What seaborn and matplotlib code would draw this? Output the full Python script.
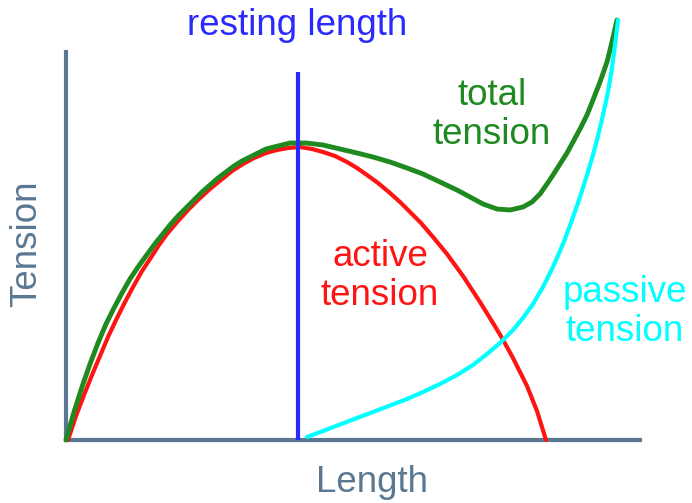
import matplotlib
matplotlib.use("Agg")
import matplotlib.pyplot as plt
import seaborn as sns
import pandas as pd

# Muscle length-tension relationship (arbitrary units)
active_len = [.02, .10, .18, .26, .34, .42, .50, .59, .67, .76,
              .84, .93, 1.01, 1.12, 1.23, 1.33, 1.44, 1.55, 1.66, 1.77,
              1.88, 2.00, 2.11, 2.22, 2.34,
              2.46, 2.57, 2.69, 2.81, 2.91, 3.01, 3.12, 3.24, 3.34, 3.44,
              3.55, 3.67, 3.81, 3.97, 4.14, 4.27, 4.36, 4.47, 4.61, 4.71, 4.80]
active_ten = [0, .24, .45, .65, .84, 1.03, 1.20, 1.38, 1.53, 1.69,
              1.81, 1.95, 2.06, 2.19, 2.31, 2.41, 2.51, 2.60, 2.69, 2.76,
              2.82, 2.87, 2.90, 2.92, 2.93,
              2.91, 2.88, 2.84, 2.78, 2.72, 2.65, 2.57, 2.47, 2.38, 2.28,
              2.17, 2.03, 1.86, 1.64, 1.38, 1.17, 1.02, .82, .54, .29, 0]

total_len = [0, .08, .16, .24, .32, .40, .48, .56, .64, .72,
             .80, .88, .96, 1.04, 1.12, 1.20, 1.28, 1.36, 1.44, 1.52,
             1.60, 1.68, 1.76, 1.84, 1.92, 2.00, 2.08, 2.16, 2.24, 2.32,
             2.40, 2.57, 2.74, 2.91, 3.07, 3.24, 3.41, 3.57, 3.74, 3.91,
             4.04, 4.17, 4.31, 4.44, 4.57, 4.66, 4.74, 4.81, 4.87, 4.94,
             5.01, 5.07, 5.14, 5.21, 5.27, 5.34, 5.41, 5.46, 5.51]
total_ten = [0, .28, .53, .76, .97, 1.16, 1.32, 1.47, 1.61, 1.73,
             1.84, 1.95, 2.05, 2.15, 2.24, 2.32, 2.40, 2.48, 2.55, 2.62,
             2.68, 2.74, 2.79, 2.83, 2.87, 2.91, 2.93, 2.95, 2.97, 2.97,
             2.97, 2.95, 2.91, 2.87, 2.83, 2.78, 2.72, 2.66, 2.58, 2.50,
             2.43, 2.36, 2.31, 2.30, 2.33, 2.38, 2.46, 2.56, 2.65, 2.76,
             2.87, 2.98, 3.11, 3.25, 3.40, 3.58, 3.78, 3.98, 4.20]

passive_len = [2.41, 2.57, 2.74, 2.91, 3.07, 3.24, 3.41, 3.57, 3.74, 3.91,
               4.07, 4.21, 4.34, 4.47, 4.57, 4.67, 4.77, 4.87, 4.97, 5.06,
               5.14, 5.21, 5.27, 5.32, 5.37, 5.42, 5.46, 5.49, 5.52]
passive_ten = [.03, .09, .155, .22, .28, .345, .41, .48, .56, .65,
               .75, .86, .97, 1.10, 1.22, 1.36, 1.53, 1.73, 1.96, 2.20,
               2.43, 2.65, 2.85, 3.04, 3.25, 3.48, 3.72, 3.95, 4.20]

resting_length = 2.32
resting_top = 3.68

AXIS_COL = "#5a7892"
RED = "#ff1414"
GREEN = "#1f8a1f"
CYAN = "#00ffff"
BLUE = "#2a2aff"

sns.set_theme(style="white")
plt.rcParams["font.family"] = ["Liberation Sans", "DejaVu Sans"]

fig = plt.figure(figsize=(6.92, 5.03), dpi=100)
ax = fig.add_axes([0, 0, 1, 1])

df_active = pd.DataFrame({"length": active_len, "tension": active_ten})
df_total = pd.DataFrame({"length": total_len, "tension": total_ten})
df_passive = pd.DataFrame({"length": passive_len, "tension": passive_ten})

line_kw = dict(x="length", y="tension", sort=False, estimator=None, ax=ax,
               solid_joinstyle="round", solid_capstyle="round")
sns.lineplot(data=df_active, color=RED, linewidth=3.0, zorder=3, **line_kw)
sns.lineplot(data=df_total, color=GREEN, linewidth=3.5, zorder=4, **line_kw)
sns.lineplot(data=df_passive, color=CYAN, linewidth=3.0, zorder=5, **line_kw)
ax.plot([resting_length, resting_length], [0, resting_top], color=BLUE,
        linewidth=3.0, zorder=6, solid_capstyle="butt")

ax.set_xlim(-0.66, 6.26)
ax.set_ylim(-0.63, 4.40)

# Axes drawn as spines that start at the origin
for side in ["top", "right"]:
    ax.spines[side].set_visible(False)
ax.spines["left"].set_position(("data", 0))
ax.spines["bottom"].set_position(("data", 0))
ax.spines["left"].set_bounds(0, 3.88)
ax.spines["bottom"].set_bounds(0, 5.74)
for side in ["left", "bottom"]:
    ax.spines[side].set_color(AXIS_COL)
    ax.spines[side].set_linewidth(3.0)
    ax.spines[side].set_zorder(2)
ax.set_xticks([])
ax.set_yticks([])
ax.set_xlabel("")
ax.set_ylabel("")

fs = 26.5
ax.text(3.06, -0.52, "Length", color=AXIS_COL, fontsize=fs, ha="center", va="baseline")
ax.text(-0.39, 1.96, "Tension", color=AXIS_COL, fontsize=fs, ha="center", va="center",
        rotation=90)
ax.text(2.31, 4.05, "resting length", color=BLUE, fontsize=fs, ha="center", va="baseline")
ax.text(4.26, 3.25, "total\ntension", color=GREEN, fontsize=fs, ha="center",
        va="center", linespacing=1.15)
ax.text(3.14, 1.64, "active\ntension", color=RED, fontsize=fs, ha="center",
        va="center", linespacing=1.15)
ax.text(5.59, 1.28, "passive\ntension", color=CYAN, fontsize=fs, ha="center",
        va="center", linespacing=1.15)

fig.savefig("out.png", dpi=100, facecolor="white")
